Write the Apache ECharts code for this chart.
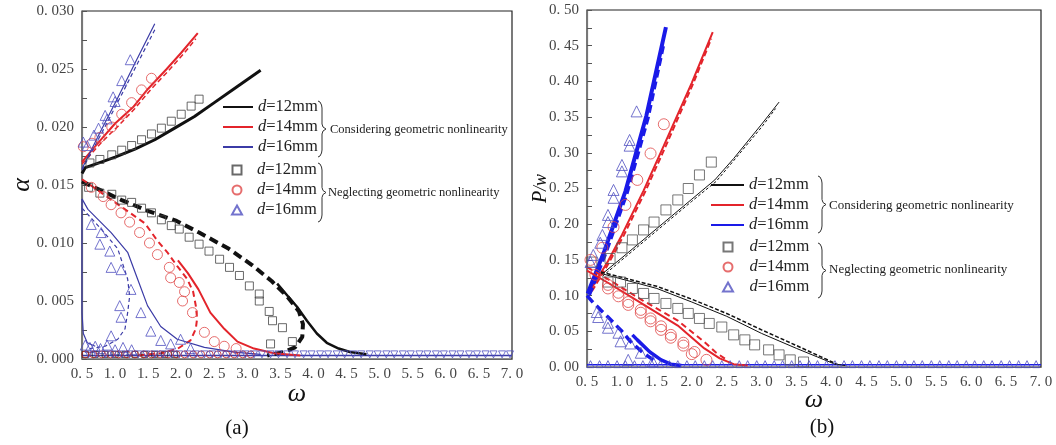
<!DOCTYPE html>
<html>
<head>
<meta charset="utf-8">
<script src="https://cdn.jsdelivr.net/npm/echarts@6/dist/echarts.min.js"></script>
<style>
html, body { margin: 0; background: #fff; }
#chart { width: 1056px; height: 445px; }
</style>
</head>
<body>
<div id="chart"></div>
<script>
// ---------- panel (a): amplitude a vs omega ----------
const a12UpSolid = [[0.5,0.0160],[0.55,0.0165],[0.8,0.0170],[1.0,0.0174],[1.3,0.0181],[1.6,0.0189],[1.9,0.0199],[2.2,0.0209],[2.5,0.0221],[2.8,0.0233],[3.0,0.0241],[3.2,0.0249]];
const a14UpSolid = [[0.5,0.0170],[0.77,0.0188],[1.0,0.0203],[1.27,0.0217],[1.5,0.0233],[1.78,0.0250],[2.0,0.0264],[2.25,0.0281]];
const a14UpDash = [[0.5,0.0168],[0.8,0.0187],[1.05,0.0201],[1.3,0.0216],[1.55,0.0233],[1.8,0.0248],[2.05,0.0264],[2.22,0.0276]];
const a16UpSolid = [[0.5,0.0164],[0.77,0.0195],[1.03,0.0224],[1.3,0.0255],[1.6,0.0289]];
const a16UpDash = [[0.5,0.0163],[0.8,0.0195],[1.1,0.0228],[1.35,0.0256],[1.62,0.0286]];

const a12DownDash = [[0.5,0.0153],[0.8,0.0145],[1.1,0.0137],[1.48,0.0128],[1.93,0.0119],[2.27,0.0109],[2.72,0.0095],[3.07,0.0081],[3.37,0.0067],[3.6,0.0054],[3.78,0.0041],[3.84,0.0030],[3.83,0.0019],[3.72,0.0010],[3.55,0.0006],[3.3,0.0003]];
const a12DownSolid = [[3.45,0.0065],[3.6,0.0055],[3.75,0.0045],[3.9,0.0033],[4.05,0.0022],[4.2,0.0014],[4.38,0.0009],[4.55,0.0006],[4.8,0.0004]];
const a14DownDash = [[0.5,0.0155],[0.8,0.0143],[1.1,0.0131],[1.45,0.0117],[1.64,0.0102],[1.79,0.0092],[1.94,0.0080],[2.09,0.0069],[2.18,0.0058],[2.22,0.0046],[2.24,0.0035],[2.22,0.0026],[2.14,0.0016],[1.95,0.0009],[1.7,0.0005],[1.3,0.0003]];
const a14DownSolid = [[1.95,0.0085],[2.1,0.0074],[2.26,0.0060],[2.44,0.0040],[2.65,0.0026],[2.85,0.0015],[3.1,0.0009],[3.4,0.0005],[3.8,0.0003]];
const a16DownDash = [[0.5,0.0130],[0.55,0.0127],[0.79,0.0112],[1.04,0.0095],[1.19,0.0069],[1.22,0.0054],[1.19,0.0040],[1.15,0.0026],[1.04,0.0017],[0.85,0.0011],[0.62,0.0009]];
const a16DownSolid = [[0.5,0.0138],[0.59,0.0129],[0.94,0.0109],[1.19,0.0092],[1.34,0.0069],[1.49,0.0046],[1.69,0.0028],[1.94,0.0017],[2.35,0.0010],[2.8,0.0006],[3.2,0.0004]];
const a16LeftSolid = [[0.5,0.0138],[0.5,0.0040],[0.52,0.0022],[0.58,0.0014],[0.7,0.0011]];
const aBaseLine = [[0.5,0.0003],[7.0,0.0003]];

const a12SqUp = [[0.62,0.0169],[0.77,0.0172],[0.95,0.0176],[1.1,0.0180],[1.25,0.0184],[1.4,0.0189],[1.55,0.0194],[1.7,0.0199],[1.85,0.0205],[2.0,0.0211],[2.15,0.0218],[2.27,0.0224]];
const a12SqDown = [[0.6,0.0148],[0.77,0.0143],[0.95,0.0142],[1.1,0.0137],[1.25,0.0135],[1.4,0.0130],[1.55,0.0126],[1.7,0.0120],[1.85,0.0115],[1.97,0.0112],[2.12,0.0105],[2.27,0.0099],[2.42,0.0093],[2.58,0.0086],[2.73,0.0079],[2.88,0.0072],[3.03,0.0063],[3.18,0.0056],[3.18,0.0050],[3.33,0.0041],[3.38,0.0033],[3.53,0.0027],[3.35,0.0013],[3.68,0.0015]];
const a14CirUp = [[0.52,0.0183],[0.65,0.0186],[0.77,0.0191],[0.95,0.0200],[1.1,0.0211],[1.25,0.0221],[1.4,0.0232],[1.55,0.0242]];
const a14CirDown = [[0.64,0.0148],[0.82,0.0140],[0.94,0.0133],[1.09,0.0126],[1.22,0.0118],[1.37,0.0109],[1.52,0.0100],[1.64,0.0090],[1.82,0.0079],[1.84,0.0070],[1.97,0.0066],[2.05,0.0058],[2.02,0.0050],[2.17,0.0040],[2.35,0.0023],[2.5,0.0015],[2.65,0.0011],[2.83,0.0009]];
const a16TriUp = [[0.52,0.0187],[0.58,0.0184],[0.68,0.0193],[0.75,0.0199],[0.85,0.0210],[0.88,0.0207],[0.97,0.0226],[1.0,0.0222],[1.1,0.0240],[1.23,0.0258]];
const a16TriDown = [[0.64,0.0116],[0.79,0.0109],[0.77,0.0099],[0.92,0.0093],[0.94,0.0079],[1.09,0.0077],[1.24,0.0060],[1.07,0.0046],[1.09,0.0036],[1.39,0.0040],[1.54,0.0024],[1.69,0.0016],[1.84,0.0013],[1.99,0.0017],[2.14,0.0009],[0.94,0.0020]];
const a16TriLow = [[0.55,0.0012],[0.62,0.0010],[0.7,0.0011],[0.78,0.0009],[0.88,0.0012],[1.0,0.0008],[1.12,0.0010],[1.25,0.0008]];

const aBaseLevel = 0.0004;
const aTriBaseX = [0.6,0.72,0.85,0.97,1.1,1.22,1.35,1.47,1.6,1.72,1.85,1.97,2.1,2.22,2.35,2.47,2.6,2.72,2.85,2.97,3.1,3.22,3.35,3.47,3.6,3.72,3.85,3.97,4.1,4.22,4.35,4.47,4.6,4.72,4.85,4.97,5.1,5.22,5.35,5.47,5.6,5.72,5.85,5.97,6.1,6.22,6.35,6.47,6.6,6.72,6.85,6.97];
const aCirBaseX = [0.55,0.67,0.8,0.93,1.05,1.18,1.3,1.43,1.55,1.68,1.8,1.93,2.05,2.18,2.3,2.43,2.55,2.68,2.8,2.93,3.05];
const aSqBaseX = [0.55,0.7,0.85,1.0,1.15,1.3,1.45,1.6,1.75,1.9];

// ---------- panel (b): P/w vs omega ----------
const b12UpSolid = [[0.7,0.129],[1.0,0.153],[1.5,0.194],[2.0,0.235],[2.33,0.262],[2.6,0.292],[3.0,0.340],[3.25,0.371]];
const b12UpDash = [[0.72,0.127],[1.0,0.150],[1.5,0.191],[2.0,0.232],[2.35,0.260],[2.6,0.289],[3.0,0.336],[3.2,0.362]];
const b14UpSolid = [[0.55,0.108],[0.8,0.148],[1.0,0.185],[1.31,0.247],[1.6,0.310],[2.0,0.398],[2.3,0.469]];
const b14UpDash = [[0.57,0.106],[0.82,0.147],[1.03,0.185],[1.34,0.247],[1.63,0.310],[2.02,0.397],[2.28,0.460]];
const b16UpSolid = [[0.51,0.103],[0.75,0.163],[1.05,0.246],[1.35,0.352],[1.63,0.476]];
const b16UpDash = [[0.53,0.101],[0.77,0.161],[1.07,0.244],[1.37,0.349],[1.6,0.455]];

const b12DownSolid = [[0.7,0.131],[1.5,0.110],[2.0,0.091],[2.5,0.071],[3.0,0.047],[3.5,0.026],[3.8,0.014],[4.05,0.004],[4.2,0.002]];
const b12DownDash = [[0.7,0.133],[1.5,0.113],[2.0,0.095],[2.5,0.075],[3.0,0.052],[3.5,0.030],[3.9,0.012],[4.1,0.003]];
const b14DownSolid = [[0.5,0.135],[0.8,0.118],[1.3,0.088],[1.8,0.058],[2.18,0.026],[2.4,0.012],[2.6,0.004],[2.8,0.002]];
const b14DownDash = [[0.5,0.140],[0.8,0.123],[1.3,0.093],[1.8,0.065],[2.18,0.035],[2.35,0.020],[2.5,0.010]];
const b16DownDash = [[0.5,0.100],[0.59,0.090],[0.8,0.070],[1.0,0.050],[1.12,0.036],[1.3,0.020],[1.45,0.010]];
const b16DownSolid = [[1.15,0.045],[1.22,0.038],[1.4,0.021],[1.56,0.010],[1.7,0.004],[1.85,0.002]];
const bBaseLine = [[0.5,0.003],[7.0,0.003]];

const b12SqUp = [[0.57,0.147],[0.83,0.152],[1.0,0.167],[1.15,0.178],[1.31,0.192],[1.46,0.203],[1.63,0.220],[1.8,0.234],[1.95,0.250],[2.11,0.269],[2.28,0.287]];
const b12SqDown = [[0.8,0.119],[0.98,0.119],[1.15,0.110],[1.31,0.103],[1.46,0.096],[1.63,0.089],[1.8,0.082],[1.95,0.075],[2.11,0.068],[2.25,0.061],[2.43,0.056],[2.6,0.045],[2.76,0.038],[2.9,0.031],[3.1,0.024],[3.25,0.017],[3.41,0.010],[3.6,0.007]];
const b14CirUp = [[0.55,0.150],[0.72,0.167],[0.88,0.196],[1.05,0.227],[1.22,0.262],[1.41,0.299],[1.6,0.340]];
const b14CirDown = [[0.62,0.129],[0.8,0.115],[0.95,0.104],[1.09,0.091],[1.27,0.080],[1.41,0.068],[1.56,0.057],[1.7,0.045],[1.88,0.034],[2.04,0.021],[2.21,0.010],[0.8,0.110],[0.95,0.099],[1.09,0.087],[1.27,0.076],[1.41,0.064],[1.56,0.052],[1.7,0.041],[1.88,0.030],[2.0,0.018]];
const b16TriUp = [[0.55,0.147],[0.59,0.157],[0.69,0.174],[0.72,0.185],[0.8,0.203],[0.8,0.213],[0.88,0.237],[0.88,0.248],[1.0,0.274],[1.0,0.283],[1.11,0.310],[1.11,0.318],[1.21,0.358]];
const b16TriDown = [[0.64,0.077],[0.66,0.070],[0.8,0.062],[0.8,0.055],[0.95,0.048],[0.98,0.036],[1.12,0.033],[1.27,0.020],[1.09,0.010],[1.44,0.008]];

const bBaseLevel = 0.004;
const bTriBaseX = [0.55,0.68,0.8,0.93,1.05,1.18,1.3,1.43,1.55,1.68,1.8,1.93,2.05,2.18,2.3,2.43,2.55,2.68,2.8,2.93,3.05,3.18,3.3,3.43,3.55,3.68,3.8,3.93,4.05,4.18,4.3,4.43,4.55,4.68,4.8,4.93,5.05,5.18,5.3,5.43,5.55,5.68,5.8,5.93,6.05,6.18,6.3,6.43,6.55,6.68,6.8,6.93];

const xTicks = { min: 0.5, max: 7.0, interval: 0.5 };
const groupLabels = ['Considering geometric nonlinearity', 'Neglecting geometric nonlinearity'];
const captions = ['(a)', '(b)'];

// ---------- helpers ----------
const SERIF = '"Liberation Serif", "DejaVu Serif", serif';
const BLACK = '#111', RED = '#e3242b', BLUE_A = '#3b3ba6', BLUE_B = '#1a1ae8';
const SQ = '#444', CIR = '#e04848', TRI = '#5050c0';
const ICON_SQ = 'path://M0,0H10V10H0Z';
const ICON_TRI = 'path://M5,0L10,9H0Z';

const line = (name, data, g, color, width, type, z) => ({
    type: 'line', name, data, xAxisIndex: g, yAxisIndex: g,
    symbol: 'none', showSymbol: false, silent: true, z: z || 3,
    lineStyle: { color, width, type: type || 'solid' },
    itemStyle: { color }
});

const marks = (name, data, g, symbol, size, color, rotate) => ({
    type: 'scatter', name, data, xAxisIndex: g, yAxisIndex: g,
    symbol, symbolSize: size, symbolRotate: rotate || 0, silent: true, z: 4,
    itemStyle: { color: 'rgba(255,255,255,0)', borderColor: color, borderWidth: 1 }
});

const onBase = (xs, level) => xs.map(x => [x, level]);

// curly brace drawn as a polyline next to a legend group
const brace = (x, y0, y1) => {
    const m = (y0 + y1) / 2;
    return [[x, y0], [x + 2, y0 + 1], [x + 3.5, y0 + 4], [x + 4, y0 + 7], [x + 4, m - 5], [x + 5, m - 2], [x + 8, m],
        [x + 5, m + 2], [x + 4, m + 5], [x + 4, y1 - 7], [x + 3.5, y1 - 4], [x + 2, y1 - 1], [x, y1]];
};

const tickLabel = (digits) => (v) => v.toFixed(digits).replace('.', '. ');

const xAxisFor = (g, gap) => ({
    type: 'value', gridIndex: g, min: xTicks.min, max: xTicks.max, interval: xTicks.interval,
    name: 'ω', nameLocation: 'middle', nameGap: gap, nameMoveOverlap: false,
    nameTextStyle: { fontFamily: SERIF, fontStyle: 'italic', fontSize: 26, color: '#111' },
    axisLine: { show: true, lineStyle: { color: '#666', width: 1 } },
    axisTick: { show: false },
    splitLine: { show: false },
    axisLabel: { formatter: tickLabel(1), fontFamily: SERIF, fontSize: 15, color: '#444', margin: 8 }
});

const yAxisFor = (g, max, interval, digits, name, gap) => ({
    type: 'value', gridIndex: g, min: 0, max, interval,
    name, nameLocation: 'middle', nameGap: gap, nameRotate: 90, nameMoveOverlap: false,
    nameTextStyle: {
        fontFamily: SERIF, fontStyle: 'italic', fontSize: 26, color: '#111',
        rich: { i: { fontFamily: SERIF, fontStyle: 'italic', fontSize: 20, color: '#111' },
                n: { fontFamily: SERIF, fontSize: 18, color: '#111' } }
    },
    axisLine: { show: true, lineStyle: { color: '#777', width: 1.2 } },
    axisTick: { show: true, inside: true, length: 5, lineStyle: { color: '#555' } },
    minorTick: { show: true, splitNumber: 2, length: 5, lineStyle: { color: '#555' } },
    splitLine: { show: false },
    axisLabel: { formatter: tickLabel(digits), fontFamily: SERIF, fontSize: 15, color: '#444', margin: 8 }
});

const legendFor = (items, left, top, itemWidth, itemHeight, extra) => Object.assign({
    data: items, orient: 'vertical', left, top, itemWidth, itemHeight, itemGap: 0,
    selectedMode: false, padding: 0,
    formatter: (n) => '{i|d}=' + n.slice(-2) + 'mm',
    textStyle: {
        fontFamily: SERIF, fontSize: 16.5, color: '#222', lineHeight: 20,
        rich: { i: { fontFamily: SERIF, fontStyle: 'italic', fontSize: 16.5, color: '#222', lineHeight: 20 } }
    }
}, extra || {});

// line legends: hide the symbol drawn on top of the line sample
const lineLegend = (names, left, top, w) => legendFor(names, left, top, w, 14, { itemStyle: { opacity: 0 } });
const markLegend = (names, left, top, w) => legendFor([
    { name: names[0], icon: ICON_SQ },
    { name: names[1], icon: 'circle' },
    { name: names[2], icon: ICON_TRI }
], left, top, w, 9);

const groupText = (x, y, text, size) => ({
    type: 'text', x, y,
    style: { text, font: `${size}px ${SERIF}`, fill: '#222', verticalAlign: 'middle' }
});

const braceShape = (x, y0, y1) => ({
    type: 'polyline', shape: { points: brace(x, y0, y1) },
    style: { fill: null, stroke: '#333', lineWidth: 1 }
});

const chart = echarts.init(document.getElementById('chart'), null, { renderer: 'canvas' });

chart.setOption({
    animation: false,
    backgroundColor: '#fff',
    grid: [
        { left: 82, top: 11, width: 430, height: 348, show: true, borderColor: '#222', borderWidth: 1.2 },
        { left: 587, top: 10, width: 454, height: 357, show: true, borderColor: '#222', borderWidth: 1.2 }
    ],
    xAxis: [xAxisFor(0, 22), xAxisFor(1, 20)],
    yAxis: [
        yAxisFor(0, 0.03, 0.005, 3, 'α', 47),
        yAxisFor(1, 0.5, 0.05, 2, '{i|P}{n|/w}', 36)
    ],
    legend: [
        lineLegend(['aL12', 'aL14', 'aL16'], 222, 97, 30),
        markLegend(['aM12', 'aM14', 'aM16'], 231, 160, 30),
        lineLegend(['bL12', 'bL14', 'bL16'], 710, 175, 33),
        markLegend(['bM12', 'bM14', 'bM16'], 722, 237, 33)
    ],
    graphic: [
        braceShape(318, 101, 157), groupText(330, 130, groupLabels[0], 12.5),
        braceShape(318, 163, 222), groupText(328, 193, groupLabels[1], 12.5),
        braceShape(818, 176, 233), groupText(829, 206, groupLabels[0], 13),
        braceShape(818, 243, 298), groupText(829, 270, groupLabels[1], 13),
        { type: 'text', x: 237, y: 428, style: { text: captions[0], font: `21px ${SERIF}`, fill: '#111', align: 'center', verticalAlign: 'middle' } },
        { type: 'text', x: 822, y: 427, style: { text: captions[1], font: `21px ${SERIF}`, fill: '#111', align: 'center', verticalAlign: 'middle' } }
    ],
    series: [
        // panel (a) - considering geometric nonlinearity
        line('aBase', aBaseLine, 0, BLUE_A, 1.5),
        line('aL12', a12UpSolid, 0, BLACK, 3),
        line('aL14', a14UpSolid, 0, RED, 2),
        line('aL14d', a14UpDash, 0, RED, 1.5, [5, 3]),
        line('aL16', a16UpSolid, 0, BLUE_A, 1.2),
        line('aL16d', a16UpDash, 0, BLUE_A, 1.2, [4, 3]),
        line('aD12', a12DownDash, 0, BLACK, 4, [9, 5]),
        line('aS12', a12DownSolid, 0, BLACK, 2.5),
        line('aD14', a14DownDash, 0, RED, 2, [6, 4]),
        line('aS14', a14DownSolid, 0, RED, 2),
        line('aD16', a16DownDash, 0, BLUE_A, 1.2, [4, 3]),
        line('aS16', a16DownSolid, 0, BLUE_A, 1.2),
        line('aS16l', a16LeftSolid, 0, BLUE_A, 1.2),
        // panel (a) - neglecting geometric nonlinearity
        marks('aM12', a12SqUp.concat(a12SqDown), 0, 'rect', 8, SQ),
        marks('aM14', a14CirUp.concat(a14CirDown), 0, 'circle', 10, CIR),
        marks('aM16', a16TriUp.concat(a16TriDown, a16TriLow), 0, 'triangle', 10, TRI),
        marks('aB12', onBase(aSqBaseX, aBaseLevel), 0, 'rect', 6, '#222'),
        marks('aB14', onBase(aCirBaseX, aBaseLevel), 0, 'circle', 7, '#c02020'),
        marks('aB16', onBase(aTriBaseX, aBaseLevel), 0, 'triangle', 7, TRI, 180),

        // panel (b) - considering geometric nonlinearity
        line('bBase', bBaseLine, 1, BLUE_B, 1.5),
        line('bL12', b12UpSolid, 1, BLACK, 1),
        line('bL12d', b12UpDash, 1, BLACK, 1, [3, 2]),
        line('bL14', b14UpSolid, 1, RED, 2),
        line('bL14d', b14UpDash, 1, RED, 2, [6, 3]),
        line('bL16', b16UpSolid, 1, BLUE_B, 4),
        line('bL16d', b16UpDash, 1, BLUE_B, 4, [8, 4]),
        line('bS12', b12DownSolid, 1, BLACK, 1),
        line('bD12', b12DownDash, 1, BLACK, 1.5, [4, 2]),
        line('bS14', b14DownSolid, 1, RED, 2),
        line('bD14', b14DownDash, 1, RED, 2, [6, 4]),
        line('bD16', b16DownDash, 1, BLUE_B, 3.5, [9, 5]),
        line('bS16', b16DownSolid, 1, BLUE_B, 3.5),
        // panel (b) - neglecting geometric nonlinearity
        marks('bM12', b12SqUp.concat(b12SqDown), 1, 'rect', 10, '#555'),
        marks('bM14', b14CirUp.concat(b14CirDown), 1, 'circle', 11, CIR),
        marks('bM16', b16TriUp.concat(b16TriDown), 1, 'triangle', 11, TRI),
        marks('bB16', onBase(bTriBaseX, bBaseLevel), 1, 'triangle', 7, TRI)
    ]
});
</script>
</body>
</html>
